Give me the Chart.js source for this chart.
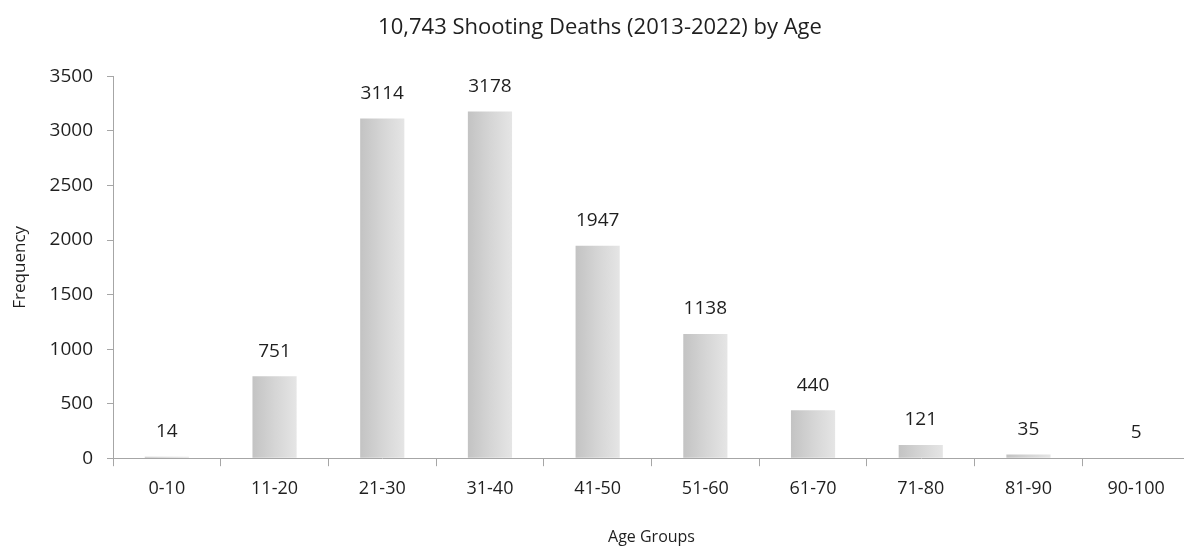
<!DOCTYPE html>
<html>
<head>
<meta charset="utf-8">
<script src="https://cdn.jsdelivr.net/npm/chart.js@4.4.1/dist/chart.umd.min.js"></script>
<style>
  html, body { margin: 0; padding: 0; background: #fff; overflow: hidden; }
  #wrap { width: 1192px; height: 554px; position: relative; }
</style>
</head>
<body>
<div id="wrap"><canvas id="chartEdades"></canvas></div>
<script>
// Datos del gráfico
const ageGroups = ['0-10', '11-20', '21-30', '31-40', '41-50', '51-60', '61-70', '71-80', '81-90', '90-100'];
const deaths = [14, 751, 3114, 3178, 1947, 1138, 440, 121, 35, 5];
const yTicks = [0, 500, 1000, 1500, 2000, 2500, 3000, 3500];

const FONT = "'Open Sans', 'Noto Sans', sans-serif";
const TEXT = '#1f1f1f';
const AXIS = '#a6a6a6';
const BAR_PCT = 0.41;

// gradiente horizontal por barra (oscuro a la izquierda, claro a la derecha)
function barGradient(ctx) {
    const chart = ctx.chart;
    const x = chart.scales.x;
    if (!x || ctx.dataIndex === undefined) return '#d4d4d4';
    const center = x.getPixelForValue(ctx.dataIndex);
    const half = (x.width / ageGroups.length) * BAR_PCT / 2;
    if (!isFinite(center) || !isFinite(half) || half <= 0) return '#d4d4d4';
    const g = chart.ctx.createLinearGradient(center - half, 0, center + half, 0);
    g.addColorStop(0, '#c3c3c3');
    g.addColorStop(0.5, '#d5d5d5');
    g.addColorStop(1, '#e5e5e5');
    return g;
}

// etiquetas de valor encima de cada barra
const valueLabels = {
    id: 'valueLabels',
    afterDatasetsDraw(chart) {
        const c = chart.ctx;
        const meta = chart.getDatasetMeta(0);
        c.save();
        c.font = '19px ' + FONT;
        c.fillStyle = TEXT;
        c.textAlign = 'center';
        c.textBaseline = 'middle';
        meta.data.forEach((bar, i) => {
            c.fillText(String(deaths[i]), bar.x, bar.y - 25);
        });
        c.restore();
    }
};

new Chart(document.getElementById('chartEdades').getContext('2d'), {
    type: 'bar',
    data: {
        labels: ageGroups,
        datasets: [{
            label: 'Frequency',
            data: deaths,
            backgroundColor: barGradient,
            borderWidth: 0,
            barPercentage: BAR_PCT,
            categoryPercentage: 1
        }]
    },
    options: {
        responsive: true,
        maintainAspectRatio: false,
        animation: false,
        layout: { padding: { left: 10, right: 2, top: 0, bottom: 7 } },
        plugins: {
            legend: { display: false },
            tooltip: { enabled: false },
            title: {
                display: true,
                text: '10,743 Shooting Deaths (2013-2022) by Age',
                color: TEXT,
                font: { family: FONT, size: 22, weight: 'normal' },
                padding: { top: 15, bottom: 35 }
            }
        },
        scales: {
            x: {
                grid: { drawOnChartArea: false, drawTicks: true, tickLength: 8, color: AXIS },
                border: { color: AXIS },
                ticks: { color: TEXT, font: { family: FONT, size: 18 }, padding: 12 },
                title: {
                    display: true,
                    text: 'Age Groups',
                    color: TEXT,
                    font: { family: FONT, size: 16 },
                    padding: { top: 16, bottom: 0 }
                }
            },
            y: {
                min: 0,
                max: 3500,
                afterBuildTicks: (scale) => { scale.ticks = yTicks.map(v => ({ value: v })); },
                afterFit: (scale) => { scale.width = 103; },
                grid: { drawOnChartArea: false, drawTicks: true, tickLength: 6, color: AXIS },
                border: { color: AXIS },
                ticks: { color: TEXT, font: { family: FONT, size: 19 }, padding: 14, callback: (v) => String(v) },
                title: {
                    display: true,
                    text: 'Frequency',
                    color: TEXT,
                    font: { family: FONT, size: 17 },
                    padding: { top: 0, bottom: 0 }
                }
            }
        }
    },
    plugins: [valueLabels]
});
</script>
</body>
</html>
